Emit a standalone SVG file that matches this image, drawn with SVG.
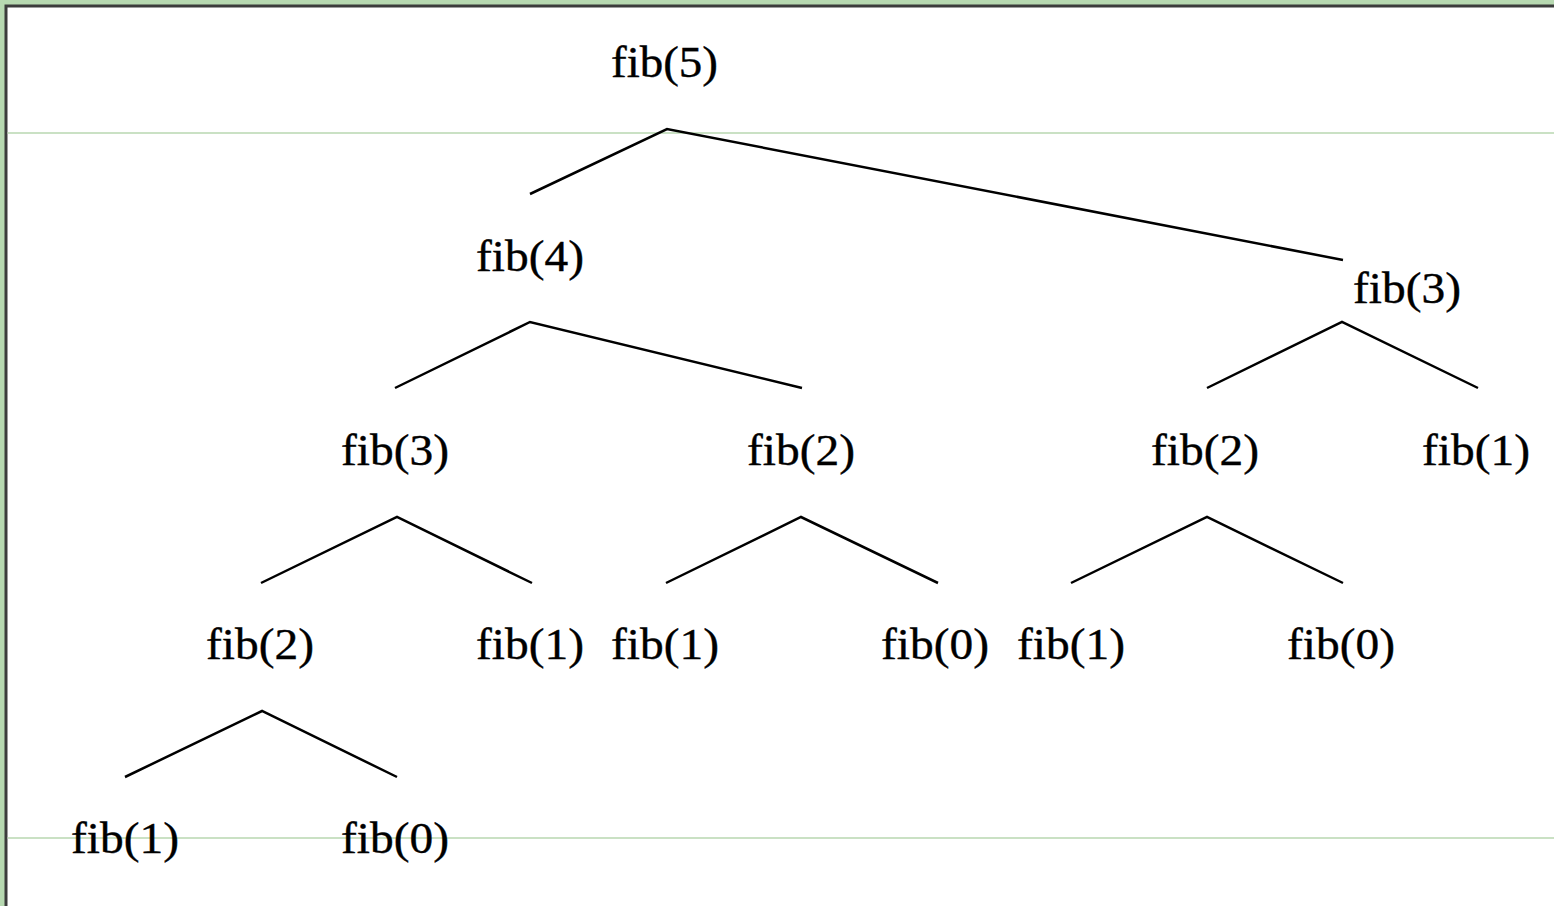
<svg xmlns="http://www.w3.org/2000/svg" width="1554" height="906" viewBox="0 0 1554 906">
<style>
.t{font-family:"Liberation Serif","Times New Roman",serif;font-size:45px;fill:#000;stroke:#000;stroke-width:0.4}
.e{stroke:#000;stroke-width:2.5;fill:none;stroke-linejoin:miter}
.g{stroke:#b9d7b0;stroke-width:1.5}
</style>
<rect x="0" y="0" width="1554" height="906" fill="#b7d9b1"/>
<rect x="6" y="6" width="1548" height="900" fill="#ffffff"/>
<path d="M6,906 V6 H1554" stroke="#3c3c3c" stroke-width="3" fill="none"/>
<line class="g" x1="7.5" y1="133" x2="1554" y2="133"/>
<line class="g" x1="7.5" y1="838" x2="1554" y2="838"/>
<g id="connectors">
<polyline class="e" points="530,194 667,129 1343,260"/>
<polyline class="e" points="395,388 530,322 802,388"/>
<polyline class="e" points="1207,388 1342,322 1478,388"/>
<polyline class="e" points="261,583 397,517 532,583"/>
<polyline class="e" points="666,583 801,517 938,583"/>
<polyline class="e" points="1071,583 1207,517 1343,583"/>
<polyline class="e" points="125,777 262,711 397,777"/>
</g>
<g id="n5"><text class="t" x="611" y="77" textLength="107" lengthAdjust="spacingAndGlyphs">fib(5)</text></g>
<g id="n4"><text class="t" x="476" y="271" textLength="108" lengthAdjust="spacingAndGlyphs">fib(4)</text></g>
<g id="n3r"><text class="t" x="1353" y="303" textLength="108" lengthAdjust="spacingAndGlyphs">fib(3)</text></g>
<g id="n3l"><text class="t" x="341" y="465" textLength="108" lengthAdjust="spacingAndGlyphs">fib(3)</text></g>
<g id="n2a"><text class="t" x="747" y="465" textLength="108" lengthAdjust="spacingAndGlyphs">fib(2)</text></g>
<g id="n2b"><text class="t" x="1151" y="465" textLength="108" lengthAdjust="spacingAndGlyphs">fib(2)</text></g>
<g id="n1a"><text class="t" x="1422" y="465" textLength="108" lengthAdjust="spacingAndGlyphs">fib(1)</text></g>
<g id="n2c"><text class="t" x="206" y="659" textLength="108" lengthAdjust="spacingAndGlyphs">fib(2)</text></g>
<g id="n1b"><text class="t" x="476" y="659" textLength="108" lengthAdjust="spacingAndGlyphs">fib(1)</text></g>
<g id="n1c"><text class="t" x="611" y="659" textLength="108" lengthAdjust="spacingAndGlyphs">fib(1)</text></g>
<g id="n0a"><text class="t" x="881" y="659" textLength="108" lengthAdjust="spacingAndGlyphs">fib(0)</text></g>
<g id="n1d"><text class="t" x="1017" y="659" textLength="108" lengthAdjust="spacingAndGlyphs">fib(1)</text></g>
<g id="n0b"><text class="t" x="1287" y="659" textLength="108" lengthAdjust="spacingAndGlyphs">fib(0)</text></g>
<g id="n1e"><text class="t" x="71" y="853" textLength="108" lengthAdjust="spacingAndGlyphs">fib(1)</text></g>
<g id="n0c"><text class="t" x="341" y="853" textLength="108" lengthAdjust="spacingAndGlyphs">fib(0)</text></g>
</svg>
